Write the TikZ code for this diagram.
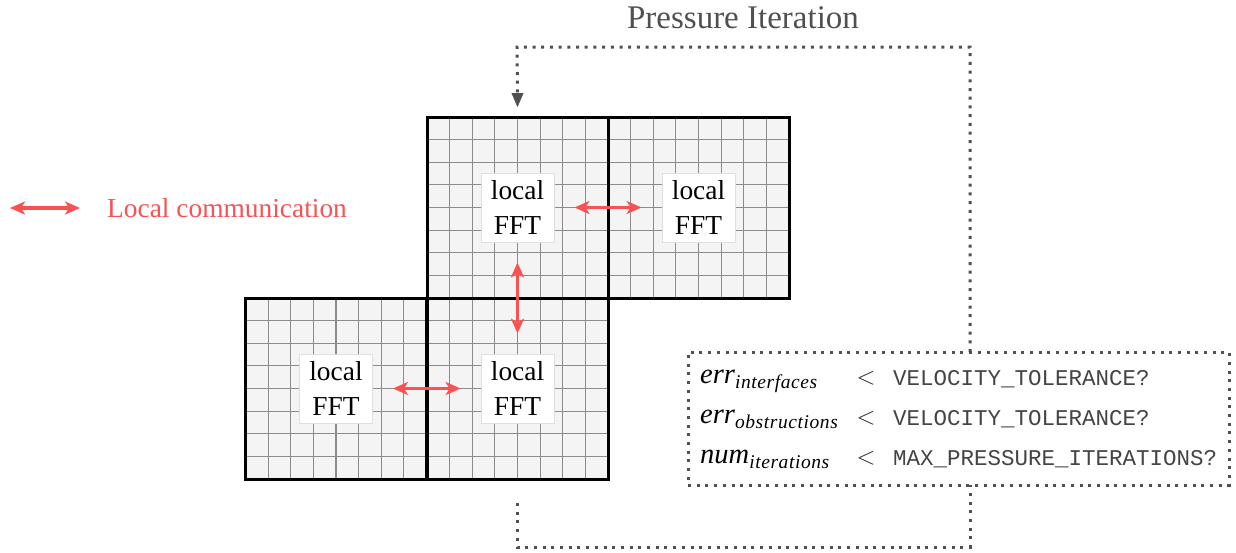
\documentclass[tikz,border=0pt]{standalone}
\usepackage{fontspec}
\setmainfont{Liberation Serif}
\setmonofont{Liberation Mono}
\usetikzlibrary{arrows.meta}
\definecolor{redc}{HTML}{F85252}
\definecolor{dgray}{HTML}{505050}
\definecolor{cellfill}{HTML}{F4F4F4}
\definecolor{cellline}{HTML}{8C8C8C}
\definecolor{monoc}{HTML}{444444}
\newcommand{\cvar}[2]{{\fontsize{28.5}{30}\selectfont\itshape #1}{\fontsize{19.5}{20}\selectfont\itshape\addfontfeature{LetterSpace=3}\raisebox{-5pt}{#2}}}
\begin{document}
\begin{tikzpicture}[x=1pt,y=-1pt,
  block/.style={draw=black,line width=3pt,minimum width=181pt,minimum height=181pt,inner sep=0pt,outer sep=0pt},
  fft/.style={fill=white,draw=black!12,line width=0.8pt,minimum width=73pt,minimum height=69pt,align=center,inner sep=0pt,font=\fontsize{27.4}{35}\selectfont},
  comm/.style={redc,line width=3.5pt,{Stealth[length=15pt,width=13pt,inset=4pt]}-{Stealth[length=15pt,width=13pt,inset=4pt]},shorten <=20pt,shorten >=20pt},
  loopline/.style={dgray,line width=3pt,dash pattern=on 3pt off 5.7pt},
  condbox/.style={draw=dgray,line width=3pt,dash pattern=on 3pt off 5.7pt,minimum width=541pt,minimum height=133pt,inner sep=0pt,outer sep=0pt},
  lhs/.style={anchor=base west,inner sep=0pt},
  ltsym/.style={anchor=center,inner sep=0pt,text=black!85,font=\fontsize{27}{28}\selectfont},
  rhs/.style={anchor=base west,inner sep=0pt,text=monoc,font=\ttfamily\fontsize{22.5}{24}\selectfont}
]
\useasboundingbox (0,0) rectangle (1236,552);

% grid blocks
\foreach \n/\bx/\by in {tl/427/117, tr/608/117, bl/245.5/298, br/427/298}{
  \fill[cellfill] (\bx,\by) rectangle ++(181,181);
  \foreach \i in {1,...,7}{
    \draw[cellline,line width=1.1pt] (\bx+\i*22.625,\by) -- ++(0,181);
    \draw[cellline,line width=1.1pt] (\bx,\by+\i*22.625) -- ++(181,0);
  }
  \node[block,anchor=north west] (b\n) at (\bx,\by) {};
}

% local FFT nodes
\node[fft] (ftl) at (btl.center) {local\\FFT};
\node[fft] (ftr) at (btr.center) {local\\FFT};
\node[fft] (fbl) at (bbl.center) {local\\FFT};
\node[fft] (fbr) at (bbr.center) {local\\FFT};

% local communication arrows
\draw[comm] (ftl) -- (ftr);
\draw[comm] (ftl) -- (fbr);
\draw[comm] (fbl) -- (fbr);

% legend
\coordinate (la) at (10,208);
\coordinate (lb) at (80,208);
\draw[comm,shorten <=0pt,shorten >=0pt] (la) -- (lb);
\node[anchor=base west,inner sep=0pt,text=redc,font=\fontsize{27.4}{30}\selectfont] (legend) at (107,217) {Local communication};

% title
\node[anchor=base,inner sep=0pt,text=dgray,font=\fontsize{33}{36}\selectfont] (title) at (743,28) {Pressure Iteration};

% condition box
\node[condbox,anchor=north west] (cond) at (688,352) {};
\node[lhs] (c1) at (700,383) {\cvar{err}{interfaces}};
\node[lhs] (c2) at (700,423) {\cvar{err}{obstructions}};
\node[lhs] (c3) at (700,463) {\cvar{num}{iterations}};
\node[ltsym] (l1) at (866,378) {$<$};
\node[ltsym] (l2) at (866,418) {$<$};
\node[ltsym] (l3) at (866,458) {$<$};
\node[rhs] (r1) at (893,385) {VELOCITY\_TOLERANCE?};
\node[rhs] (r2) at (893,425) {VELOCITY\_TOLERANCE?};
\node[rhs] (r3) at (893,465) {MAX\_PRESSURE\_ITERATIONS?};

% pressure iteration loop
\coordinate (tr) at (970,47);
\coordinate (tl) at (517,47);
\coordinate (bs) at (517,503);
\coordinate (bb) at (517,547);
\coordinate (br) at (970,547);
\draw[loopline] (cond.north -| tr) -- (tr) -- (tl) -- ([yshift=22pt]btl.north -| ftl.north);
\draw[dgray,-{Triangle[length=14pt,width=12pt]}] ([yshift=24pt]btl.north -| ftl.north) -- ([yshift=10pt]btl.north -| ftl.north);
\draw[loopline] (bs) -- (bb) -- (br) -- (cond.south -| br);
\end{tikzpicture}
\end{document}
